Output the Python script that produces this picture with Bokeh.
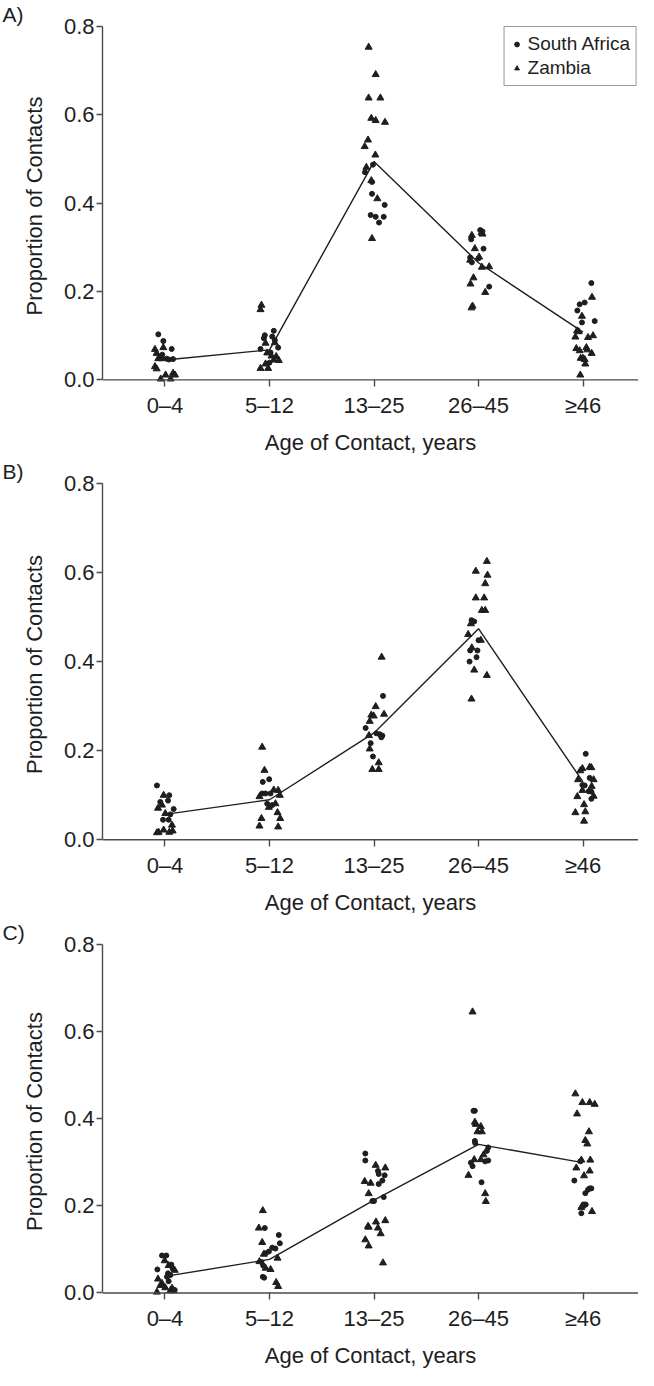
from bokeh.plotting import figure
from bokeh.models import (Range1d, FixedTicker, NumeralTickFormatter, Title,
                          Legend, LegendItem, Span)
from bokeh.layouts import column
from bokeh.embed import file_html
from bokeh.resources import INLINE

CATEGORIES = ["0–4", "5–12", "13–25", "26–45", "≥46"]
Y_TICKS = [0.0, 0.2, 0.4, 0.6, 0.8]
PANELS = ["A)", "B)", "C)"]
SERIES = ["South Africa", "Zambia"]
X_TITLE = "Age of Contact, years"
Y_TITLE = "Proportion of Contacts"

# ---------------- Panel A ----------------
A_LINE = [0.045, 0.068, 0.494, 0.265, 0.108]
A_SA_VAL = [[0.103, 0.088, 0.070, 0.054, 0.048, 0.046, 0.047, 0.057],
            [0.111, 0.101, 0.094, 0.090, 0.073, 0.070, 0.062, 0.039, 0.098],
            [0.487, 0.470, 0.448, 0.421, 0.396, 0.373, 0.369, 0.369, 0.356],
            [0.339, 0.336, 0.318, 0.297, 0.277, 0.266, 0.275, 0.211],
            [0.219, 0.175, 0.171, 0.157, 0.130, 0.133]]
A_SA_JIT = [[-0.064, -0.016, 0.064, -0.041, 0.016, 0.038, 0.077, -0.026],
            [0.041, -0.045, -0.054, 0.051, 0.083, -0.086, 0.010, 0.0, 0.026],
            [-0.010, -0.086, -0.019, -0.019, 0.102, -0.032, 0.016, 0.093, 0.048],
            [0.016, 0.038, -0.070, 0.048, -0.080, -0.064, 0.0, 0.102],
            [0.080, 0.016, -0.032, -0.054, -0.010, 0.112]]
A_ZM_VAL = [[0.069, 0.073, 0.060, 0.048, 0.048, 0.030, 0.025, 0.011, 0.002, 0.015, 0.011, 0.002],
            [0.169, 0.159, 0.084, 0.083, 0.061, 0.054, 0.053, 0.045, 0.044, 0.036, 0.026, 0.026],
            [0.753, 0.691, 0.638, 0.638, 0.592, 0.587, 0.583, 0.543, 0.528, 0.509, 0.481, 0.451, 0.410, 0.320],
            [0.333, 0.330, 0.327, 0.297, 0.278, 0.271, 0.255, 0.256, 0.231, 0.217, 0.198, 0.167, 0.163],
            [0.187, 0.144, 0.111, 0.109, 0.097, 0.100, 0.096, 0.071, 0.073, 0.066, 0.068, 0.060, 0.049, 0.049, 0.046, 0.036, 0.011]]
A_ZM_JIT = [[-0.096, -0.016, -0.080, -0.064, -0.026, -0.096, -0.080, 0.006, -0.041, 0.077, 0.096, 0.054],
            [-0.077, -0.086, 0.051, -0.038, -0.022, 0.019, 0.064, 0.041, 0.089, -0.038, -0.086, -0.013],
            [-0.051, 0.016, -0.051, 0.061, -0.026, 0.016, 0.105, -0.057, -0.089, 0.013, -0.073, -0.026, 0.032, -0.019],
            [0.029, 0.038, -0.064, -0.035, 0.006, -0.080, 0.032, 0.102, -0.048, -0.077, 0.064, -0.057, -0.067],
            [0.086, -0.010, -0.057, -0.041, -0.073, 0.096, 0.048, -0.064, 0.032, -0.032, 0.041, 0.083, -0.022, 0.0, 0.016, 0.022, -0.026]]

# ---------------- Panel B ----------------
B_LINE = [0.057, 0.090, 0.240, 0.474, 0.130]
B_SA_VAL = [[0.122, 0.100, 0.085, 0.088, 0.069, 0.057, 0.045, 0.045],
            [0.136, 0.130, 0.104, 0.104, 0.104, 0.081, 0.078],
            [0.323, 0.251, 0.239, 0.237, 0.234, 0.230, 0.217, 0.187],
            [0.493, 0.490, 0.448, 0.425, 0.425, 0.410, 0.400],
            [0.193, 0.139, 0.123, 0.122, 0.109, 0.108, 0.092]]
B_SA_JIT = [[-0.077, 0.041, -0.045, 0.029, 0.083, 0.051, -0.019, 0.035],
            [-0.003, -0.064, -0.070, -0.038, 0.010, -0.022, 0.026],
            [0.086, -0.080, 0.022, 0.054, 0.080, 0.070, -0.032, -0.010],
            [-0.067, -0.041, 0.0, -0.080, -0.010, -0.019, -0.086],
            [0.026, 0.064, -0.006, 0.016, 0.054, 0.080, 0.080]]
B_ZM_VAL = [[0.100, 0.078, 0.071, 0.059, 0.033, 0.022, 0.017, 0.016, 0.017, 0.020],
            [0.208, 0.156, 0.112, 0.111, 0.100, 0.097, 0.081, 0.073, 0.061, 0.048, 0.048, 0.031, 0.029],
            [0.410, 0.299, 0.280, 0.278, 0.282, 0.266, 0.234, 0.204, 0.173, 0.158, 0.158],
            [0.625, 0.603, 0.594, 0.575, 0.543, 0.543, 0.515, 0.515, 0.485, 0.461, 0.448, 0.431, 0.381, 0.369, 0.316],
            [0.163, 0.162, 0.160, 0.155, 0.135, 0.135, 0.120, 0.111, 0.098, 0.097, 0.079, 0.061, 0.063, 0.042]]
B_ZM_JIT = [[-0.013, -0.029, -0.067, 0.003, 0.067, -0.013, -0.061, -0.077, 0.041, 0.073],
            [-0.070, -0.048, 0.041, 0.083, 0.099, -0.096, 0.057, -0.006, 0.077, -0.077, 0.102, -0.096, 0.083],
            [0.073, 0.016, -0.026, -0.003, 0.096, -0.041, -0.048, -0.041, 0.045, -0.016, 0.045],
            [0.080, -0.026, 0.086, 0.064, -0.026, 0.054, 0.032, 0.064, -0.073, -0.099, 0.022, -0.064, -0.041, 0.080, -0.067],
            [0.064, 0.080, -0.006, -0.026, 0.102, -0.048, 0.083, -0.006, 0.102, -0.054, 0.010, -0.073, 0.022, 0.010]]

# ---------------- Panel C ----------------
C_LINE = [0.038, 0.077, 0.213, 0.341, 0.299]
C_SA_VAL = [[0.086, 0.086, 0.054, 0.065, 0.056, 0.045, 0.041, 0.037, 0.027, 0.007],
            [0.149, 0.133, 0.114, 0.104, 0.102, 0.095, 0.091, 0.071, 0.063, 0.037, 0.035],
            [0.320, 0.304, 0.280, 0.273, 0.270, 0.258, 0.250, 0.211, 0.211, 0.220],
            [0.418, 0.418, 0.349, 0.344, 0.334, 0.326, 0.302, 0.304, 0.299, 0.291, 0.254],
            [0.302, 0.258, 0.240, 0.240, 0.237, 0.229, 0.203, 0.203, 0.183]]
C_SA_JIT = [[-0.029, 0.013, -0.073, 0.061, 0.073, 0.029, 0.051, 0.019, 0.035, 0.093],
            [-0.045, 0.089, 0.099, 0.026, 0.057, -0.006, -0.038, -0.077, -0.061, -0.064, -0.051],
            [-0.083, -0.083, 0.038, 0.045, 0.102, 0.080, 0.045, -0.016, 0.0, 0.093],
            [-0.048, -0.035, -0.035, -0.032, 0.093, 0.080, 0.064, 0.093, -0.073, -0.057, 0.029],
            [-0.026, -0.083, 0.064, 0.080, 0.048, 0.022, 0.010, 0.026, -0.016]]
C_ZM_VAL = [[0.074, 0.063, 0.052, 0.032, 0.022, 0.017, 0.012, 0.011, 0.005, 0.005, 0.002],
            [0.189, 0.149, 0.116, 0.089, 0.080, 0.072, 0.057, 0.054, 0.024, 0.015],
            [0.293, 0.287, 0.256, 0.252, 0.228, 0.153, 0.151, 0.163, 0.166, 0.149, 0.136, 0.122, 0.108, 0.069],
            [0.645, 0.392, 0.387, 0.382, 0.370, 0.370, 0.317, 0.306, 0.306, 0.270, 0.228, 0.210],
            [0.457, 0.437, 0.437, 0.433, 0.411, 0.370, 0.350, 0.342, 0.305, 0.305, 0.287, 0.280, 0.269, 0.200, 0.196, 0.187]]
C_ZM_JIT = [[-0.003, 0.035, 0.093, -0.067, -0.029, -0.045, 0.003, 0.067, 0.051, 0.083, -0.077],
            [-0.064, -0.102, -0.070, -0.054, 0.077, -0.096, -0.038, 0.010, 0.064, 0.083],
            [0.016, 0.108, -0.089, -0.032, -0.051, -0.057, -0.051, 0.019, 0.108, 0.038, 0.064, -0.083, -0.051, 0.086],
            [-0.057, -0.035, -0.026, 0.022, -0.010, 0.032, 0.048, -0.041, 0.022, -0.096, 0.064, 0.070],
            [-0.073, -0.006, 0.064, 0.112, -0.057, 0.057, 0.022, 0.041, -0.016, 0.070, -0.064, 0.064, 0.010, -0.006, -0.016, 0.086]]

FONT = "Liberation Sans"
FS = "22px"
INK = "#1e1e1e"
AXIS = "#4a4a4a"
TOP = 24
FRAME_H = 365


def flatten(jit, val):
    xs, ys = [], []
    for i, (js, vs) in enumerate(zip(jit, val)):
        for j, v in zip(js, vs):
            xs.append(i + 1 + j)
            ys.append(v)
    return xs, ys


def make_panel(letter, line_vals, sa, zm, height, with_legend):
    p = figure(width=638, height=height,
               x_range=Range1d(0.402, 5.531), y_range=Range1d(-0.015, 0.802),
               output_backend="svg", toolbar_location=None,
               min_border_left=102, min_border_right=0,
               min_border_top=TOP, min_border_bottom=height - TOP - FRAME_H)
    p.title = Title(text=letter, align="left", vertical_align="bottom",
                    offset=-100, standoff=0, text_font=FONT,
                    text_font_size="21px", text_font_style="normal",
                    text_color=INK)
    p.outline_line_color = None
    p.xgrid.visible = False
    p.ygrid.visible = False
    p.background_fill_color = "white"
    p.border_fill_color = "white"

    # x-axis line sits at y = 0
    p.add_layout(Span(location=0, dimension="width", line_color=AXIS, line_width=1.4))

    cats = list(range(1, len(CATEGORIES) + 1))
    p.line(cats, line_vals, line_color=INK, line_width=1.4)
    sx, sy = flatten(*sa)
    zx, zy = flatten(*zm)
    r_sa = p.scatter(sx, sy, marker="circle", size=5, fill_color=INK, line_color=INK)
    r_zm = p.scatter(zx, zy, marker="triangle", size=7, fill_color=INK, line_color=INK)

    xa = p.xaxis[0]
    xa.ticker = FixedTicker(ticks=cats)
    xa.major_label_overrides = {c: CATEGORIES[c - 1] for c in cats}
    xa.axis_line_color = None
    xa.major_tick_in = 7
    xa.major_tick_out = 0
    xa.major_label_standoff = 6
    xa.axis_label = X_TITLE
    xa.axis_label_standoff = 9

    ya = p.yaxis[0]
    ya.ticker = FixedTicker(ticks=Y_TICKS)
    ya.formatter = NumeralTickFormatter(format="0.0")
    ya.bounds = (0, 0.8)
    ya.axis_line_color = AXIS
    ya.axis_line_width = 1.4
    ya.major_tick_out = 6
    ya.major_tick_in = 0
    ya.major_label_standoff = 2
    ya.axis_label = Y_TITLE
    ya.axis_label_standoff = 14

    for ax in (xa, ya):
        ax.major_tick_line_color = AXIS
        ax.major_tick_line_width = 1.4
        ax.minor_tick_line_color = None
        ax.major_label_text_font = FONT
        ax.major_label_text_font_size = FS
        ax.major_label_text_color = INK
        ax.axis_label_text_font = FONT
        ax.axis_label_text_font_size = FS
        ax.axis_label_text_font_style = "normal"
        ax.axis_label_text_color = INK

    if with_legend:
        legend = Legend(items=[LegendItem(label=SERIES[0], renderers=[r_sa]),
                               LegendItem(label=SERIES[1], renderers=[r_zm])],
                        location="top_right")
        legend.label_text_font = FONT
        legend.label_text_font_size = "19px"
        legend.label_text_color = INK
        legend.border_line_color = "#333333"
        legend.border_line_width = 1
        legend.background_fill_color = "white"
        legend.background_fill_alpha = 1
        legend.padding = 6
        legend.spacing = 2
        legend.margin = 1
        legend.glyph_width = 12
        legend.glyph_height = 20
        legend.label_height = 20
        legend.label_standoff = 5
        p.add_layout(legend)
    return p


pa = make_panel(PANELS[0], A_LINE, (A_SA_JIT, A_SA_VAL), (A_ZM_JIT, A_ZM_VAL), 457, True)
pb = make_panel(PANELS[1], B_LINE, (B_SA_JIT, B_SA_VAL), (B_ZM_JIT, B_ZM_VAL), 461, False)
pc = make_panel(PANELS[2], C_LINE, (C_SA_JIT, C_SA_VAL), (C_ZM_JIT, C_ZM_VAL), 452, False)

layout = column(pa, pb, pc, spacing=0)
open("out.html", "w").write(file_html(layout, INLINE))
